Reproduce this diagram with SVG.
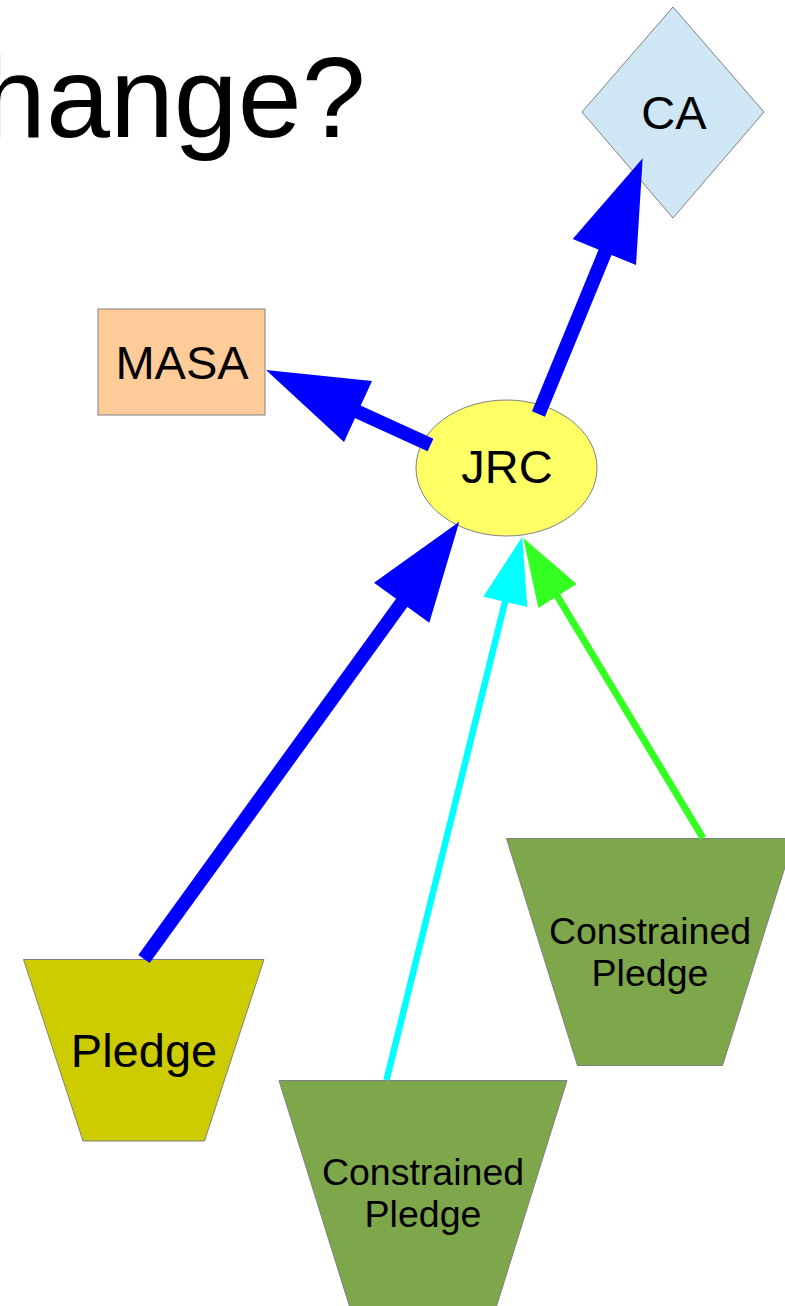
<svg xmlns="http://www.w3.org/2000/svg" width="785" height="1306" viewBox="0 0 785 1306">
<style>
.lbl{font-family:"Liberation Sans",Arial,sans-serif;fill:#000;text-anchor:middle}
.big{font-size:47px}
.small{font-size:37.5px}
.shape{stroke:#808080;stroke-width:1}
.blue{stroke:#0000ff;stroke-width:14;fill:none}
</style>
<rect width="785" height="1306" fill="#ffffff"/>
<g id="title">
<text x="-18" y="137" font-family="Liberation Sans,Arial,sans-serif" font-size="115" fill="#000">hange?</text>
</g>
<g id="ca">
<polygon class="shape" points="673,7 764,112 673,218 582,112" fill="#cfe7f5"/>
<text class="lbl big" x="674" y="129">CA</text>
</g>
<g id="masa">
<rect class="shape" x="98" y="309" width="167" height="106" fill="#ffcc99"/>
<text class="lbl big" x="182" y="379">MASA</text>
</g>
<g id="jrc">
<ellipse class="shape" cx="506.5" cy="468" rx="90.5" ry="68" fill="#ffff66"/>
<text class="lbl big" x="507" y="483">JRC</text>
</g>
<g id="pledge">
<polygon class="shape" points="23.5,959.5 264,959.5 204.5,1141 83,1141" fill="#cccc00"/>
<text class="lbl big" x="144" y="1067">Pledge</text>
</g>
<g id="constrained1">
<polygon class="shape" points="279,1080.5 567,1080.5 496,1308 350,1308" fill="#7ea64a"/>
<text class="lbl small" x="423" y="1185">Constrained</text>
<text class="lbl small" x="423" y="1227">Pledge</text>
</g>
<g id="constrained2">
<polygon class="shape" points="506.5,838.5 794,838.5 722.5,1065.5 577.5,1065.5" fill="#7ea64a"/>
<text class="lbl small" x="650" y="944">Constrained</text>
<text class="lbl small" x="650" y="986">Pledge</text>
</g>
<g id="connectors">
<line class="blue" x1="538.5" y1="414" x2="606" y2="250"/>
<polygon points="642.7,158.3 572.7,239 636,265" fill="#0000ff"/>
<line class="blue" x1="430.5" y1="445" x2="356" y2="411"/>
<polygon points="266,370 372,381 344,442" fill="#0000ff"/>
<line class="blue" x1="144" y1="959" x2="403" y2="601"/>
<polygon points="459.3,521.7 374,582.7 429.3,622.7" fill="#0000ff"/>
<line x1="386.5" y1="1080" x2="505.5" y2="600" stroke="#00ffff" stroke-width="6.5"/>
<polygon points="522.3,536.7 483.3,596.7 527.3,607" fill="#00ffff"/>
<line x1="703" y1="838" x2="556" y2="594" stroke="#33ff22" stroke-width="7"/>
<polygon points="523.3,538 538.3,608 576.7,584" fill="#33ff22"/>
</g>
</svg>
